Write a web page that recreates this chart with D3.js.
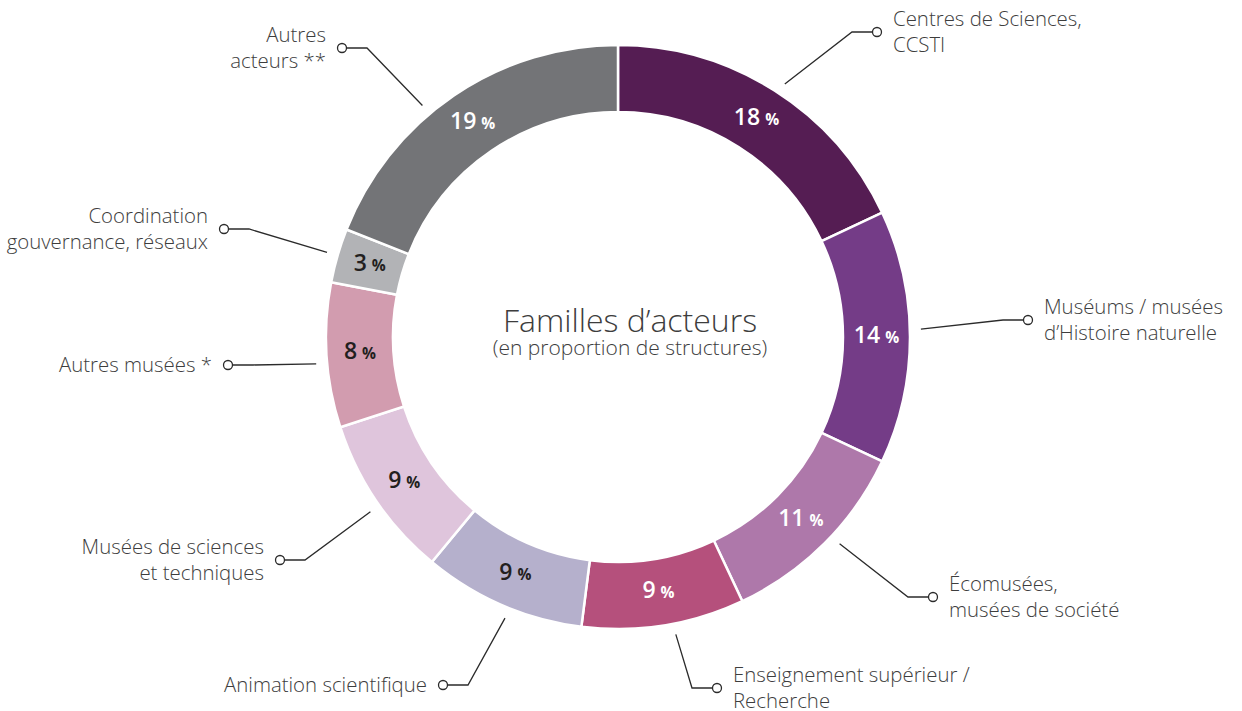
<!DOCTYPE html>
<html>
<head>
<meta charset="utf-8">
<script src="https://cdn.jsdelivr.net/npm/d3@7"></script>
<style>
  body { margin: 0; background: #fff; }
  svg { display: block; font-family: "Open Sans", sans-serif; }
</style>
</head>
<body>
<div id="chart"></div>
<script>
// familles d'acteurs, en % de structures
const categories = [
  ["Centres de Sciences,", "CCSTI"],
  ["Muséums / musées", "d\u2019Histoire naturelle"],
  ["Écomusées,", "musées de société"],
  ["Enseignement supérieur /", "Recherche"],
  ["Animation scientifique"],
  ["Musées de sciences", "et techniques"],
  ["Autres musées *"],
  ["Coordination", "gouvernance, réseaux"],
  ["Autres", "acteurs **"]
];
const values = [18, 14, 11, 9, 9, 9, 8, 3, 19];
const colors = ["#551d53", "#743c87", "#ae78aa", "#b5507c", "#b5b0cc", "#dfc5dc", "#d29caf", "#b2b3b6", "#737477"];
const darkText = [false, false, false, false, true, true, true, true, false];

// where each leader line bends (relative to the centre)
const elbows = [[234, -305], [385, -17], [290, 260], [74, 351], [-150, 348], [-313, 223], [-365, 28], [-369, -108], [-251, -289]];
// small nudges of the leader start angle (degrees)
const startShift = [1, -1.5, -2, -2, -1.5, -1, -1.5, 0, -6];

const width = 1242, height = 711;
const cx = 618, cy = 337;
const outerR = 292, innerR = 225;

const svg = d3.select("#chart")
  .append("svg")
  .attr("width", width)
  .attr("height", height)
  .attr("viewBox", [0, 0, width, height]);

const g = svg.append("g").attr("transform", `translate(${cx},${cy})`);

const pie = d3.pie().sort(null).value(d => d);
const arcs = pie(values);

const arc = d3.arc().innerRadius(innerR).outerRadius(outerR);
const midArc = d3.arc().innerRadius((innerR + outerR) / 2).outerRadius((innerR + outerR) / 2);

g.selectAll("path.slice")
  .data(arcs)
  .join("path")
  .attr("class", "slice")
  .attr("d", arc)
  .attr("fill", (d, i) => colors[i])
  .attr("stroke", "#fff")
  .attr("stroke-width", 2.5);

// percent labels
const pct = g.selectAll("text.pct")
  .data(arcs)
  .join("text")
  .attr("class", "pct")
  .attr("transform", d => `translate(${midArc.centroid(d)})`)
  .attr("text-anchor", "middle")
  .attr("dy", "0.36em")
  .attr("font-weight", 600)
  .attr("fill", (d, i) => darkText[i] ? "#231f20" : "#fff");
pct.append("tspan").attr("font-size", 23).text(d => d.value);
pct.append("tspan").attr("font-size", 15.5).attr("font-weight", 700).attr("dx", 5).text("%");

// leader lines
const lineR = 303;
arcs.forEach((d, i) => {
  const a = (d.startAngle + d.endAngle) / 2 + startShift[i] * Math.PI / 180;
  const sx = lineR * Math.sin(a), sy = -lineR * Math.cos(a);
  const [ex, ey] = elbows[i];
  const right = ex > 0;
  const dotX = ex + (right ? 25 : -25);

  g.append("path")
    .attr("d", d3.line()([[sx, sy], [ex, ey], [dotX, ey]]))
    .attr("fill", "none")
    .attr("stroke", "#2b2b2b")
    .attr("stroke-width", 1.3);

  g.append("circle")
    .attr("cx", dotX)
    .attr("cy", ey)
    .attr("r", 4.5)
    .attr("fill", "#fff")
    .attr("stroke", "#2b2b2b")
    .attr("stroke-width", 1.3);

  const lines = categories[i];
  const lh = 26;
  const tx = dotX + (right ? 16 : -16);
  const t = g.append("text")
    .attr("x", tx)
    .attr("y", ey - (lines.length - 1) * lh / 2)
    .attr("text-anchor", right ? "start" : "end")
    .attr("font-size", 20.4)
    .attr("font-weight", 300)
    .attr("fill", "#3d3d3d");
  lines.forEach((l, j) => {
    t.append("tspan")
      .attr("x", tx)
      .attr("dy", j === 0 ? "0.35em" : lh)
      .text(l);
  });
});

// centre title (sits a little right of the ring centre)
g.append("text")
  .attr("text-anchor", "middle")
  .attr("x", 12)
  .attr("y", -5)
  .attr("font-size", 32)
  .attr("font-weight", 300)
  .attr("fill", "#3d3d3d")
  .text("Familles d\u2019acteurs");
g.append("text")
  .attr("text-anchor", "middle")
  .attr("x", 12)
  .attr("y", 18)
  .attr("font-size", 21)
  .attr("font-weight", 300)
  .attr("fill", "#3d3d3d")
  .text("(en proportion de structures)");
</script>
</body>
</html>
